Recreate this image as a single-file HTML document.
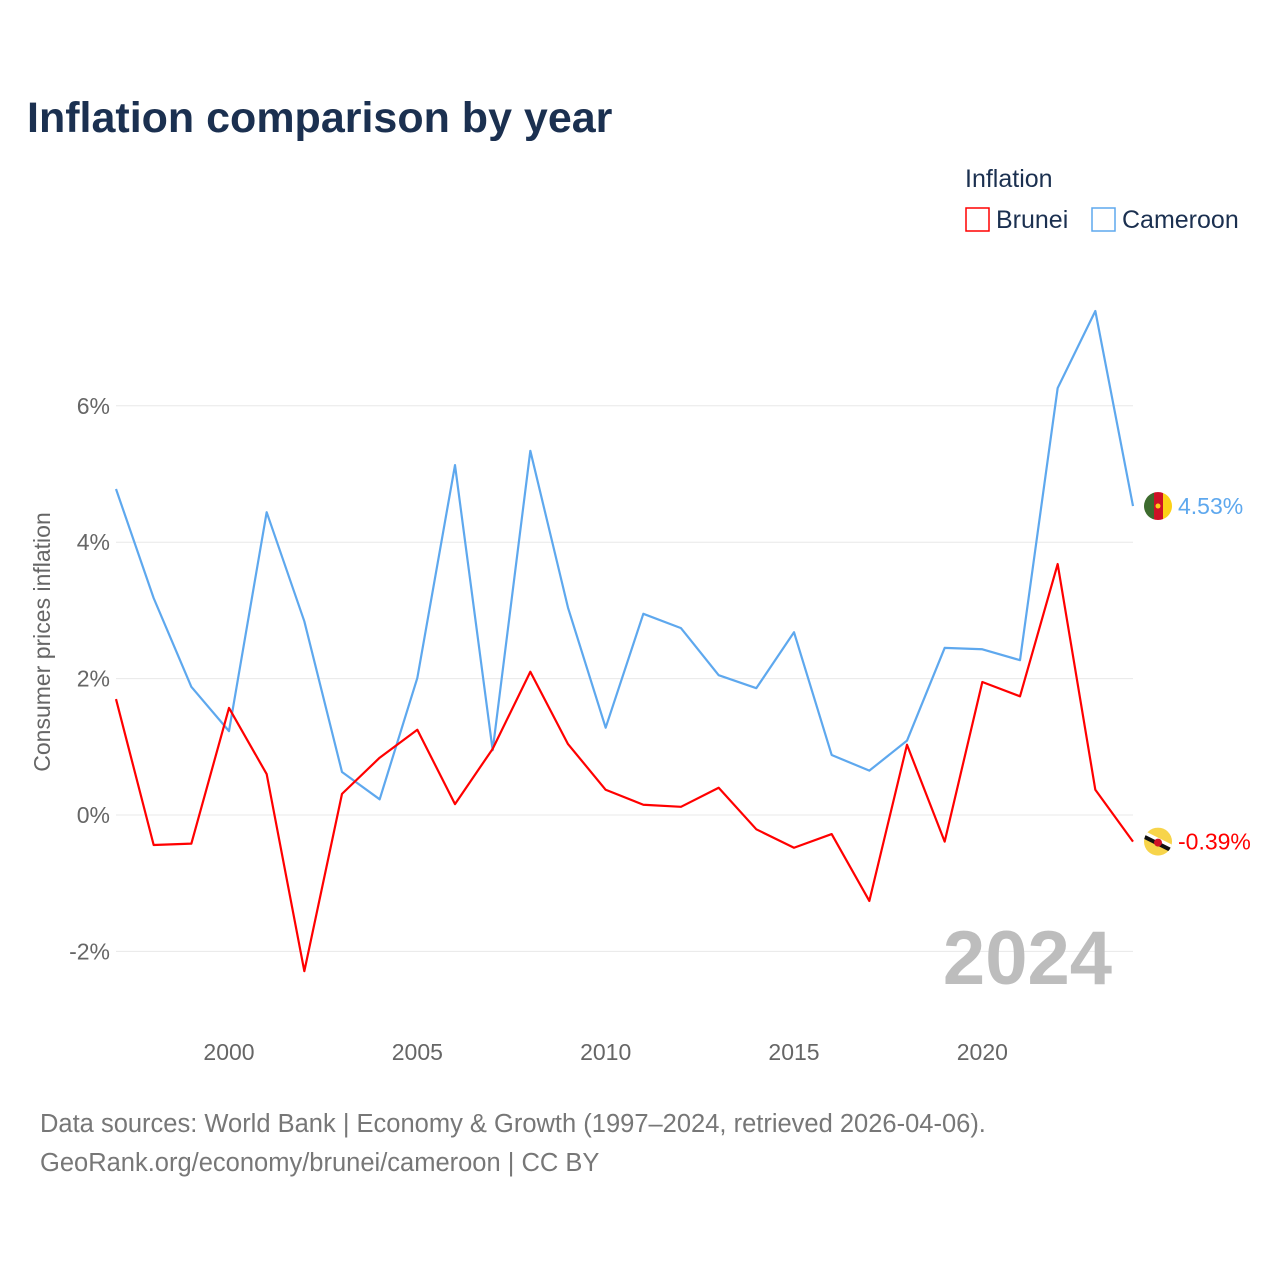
<!DOCTYPE html>
<html><head><meta charset="utf-8"><style>
body{margin:0;background:#fff;font-family:"Liberation Sans",sans-serif}
#wrap{position:relative;width:1280px;height:1280px}
</style></head><body>
<div id="wrap">
<svg id="chart" width="1280" height="1280" style="font-family:'Liberation Sans',sans-serif">
<defs>
<clipPath id="cc"><circle cx="0" cy="0" r="14"/></clipPath>
</defs>
<text x="27" y="132" font-size="43" font-weight="bold" fill="#1b3050">Inflation comparison by year</text>
<text x="965" y="187" font-size="25" fill="#1b3050">Inflation</text>
<g><rect x="966" y="208" width="23" height="23" fill="none" stroke="#ff0000" stroke-width="1.5"/><text x="996" y="228" font-size="25" fill="#1b3050">Brunei</text></g>
<g><rect x="1092" y="208" width="23" height="23" fill="none" stroke="#5ea8ee" stroke-width="1.5"/><text x="1122" y="228" font-size="25" fill="#1b3050">Cameroon</text></g>
<g id="grid"></g><g id="xt"></g>
<text transform="translate(50,642) rotate(-90)" text-anchor="middle" font-size="23" fill="#666">Consumer prices inflation</text>
<text x="1112" y="984" text-anchor="end" font-size="76" font-weight="bold" fill="#bdbdbd">2024</text>
<g id="series"></g>
<text x="40" y="1132" font-size="25.5" fill="#777">Data sources: World Bank | Economy &amp; Growth (1997–2024, retrieved 2026-04-06).</text>
<text x="40" y="1171" font-size="25.5" fill="#777">GeoRank.org/economy/brunei/cameroon | CC BY</text>
</svg></div>
<script>
const years=[1997,1998,1999,2000,2001,2002,2003,2004,2005,2006,2007,2008,2009,2010,2011,2012,2013,2014,2015,2016,2017,2018,2019,2020,2021,2022,2023,2024];
const cameroon=[4.78,3.18,1.88,1.23,4.44,2.84,0.63,0.23,2.01,5.13,0.95,5.34,3.04,1.28,2.95,2.74,2.05,1.86,2.68,0.88,0.65,1.09,2.45,2.43,2.27,6.26,7.39,4.53];
const brunei=[1.70,-0.44,-0.42,1.57,0.60,-2.29,0.31,0.84,1.25,0.16,0.97,2.10,1.04,0.37,0.15,0.12,0.40,-0.21,-0.48,-0.28,-1.26,1.03,-0.39,1.95,1.74,3.68,0.37,-0.39];
const yTicks=[-2,0,2,4,6];
const xTicks=[2000,2005,2010,2015,2020];
const NS="http://www.w3.org/2000/svg";
const X=v=>116+(v-1997)*(1133-116)/27;
const Y=v=>815-v*68.2;
function mk(t,a,p){const e=document.createElementNS(NS,t);for(const k in a)e.setAttribute(k,a[k]);p.appendChild(e);return e;}
const g=document.getElementById('grid');
yTicks.forEach(v=>{
 const l=mk('line',{x1:116,x2:1133,y1:Y(v),y2:Y(v),stroke:'#e8e8e8','stroke-width':1},g);
 
 
 const t=mk('text',{x:110,y:Y(v)+8,'text-anchor':'end','font-size':23,fill:'#666'},g);
 t.textContent=v+'%';
 
 
});
const xt=document.getElementById('xt');
xTicks.forEach(v=>{
 const t=mk('text',{x:X(v),y:1060,'text-anchor':'middle','font-size':23,fill:'#666'},xt);
 t.textContent=v;
 
 
});
const s=document.getElementById('series');
function flag(name,cy){
 const f=mk('g',{transform:'translate(1158,'+cy+')','clip-path':'url(#cc)'},s);
 
 
 if(name==='cameroon'){
  mk('rect',{x:-14,y:-14,width:10,height:28,fill:'#3d6b2e'},f);
  mk('rect',{x:-4,y:-14,width:9,height:28,fill:'#ce1126'},f);
  mk('rect',{x:5,y:-14,width:10,height:28,fill:'#fcd116'},f);
  mk('circle',{cx:0,cy:0,r:2.5,fill:'#fcd116'},f);
 } else {
  mk('rect',{x:-14,y:-14,width:28,height:28,fill:'#f7d44a'},f);
  mk('line',{x1:-16,y1:-8,x2:16,y2:8,stroke:'#fff','stroke-width':7},f);
  mk('line',{x1:-16,y1:-6,x2:16,y2:10,stroke:'#111','stroke-width':4},f);
  mk('circle',{cx:0,cy:1,r:4,fill:'#cf1126'},f);
 }
}
function line(data,color,name,label){
 const p=mk('polyline',{points:data.map((v,i)=>X(years[i])+','+Y(v)).join(' '),fill:'none',stroke:color,'stroke-width':2.2,'stroke-linejoin':'round'},s);
 
 
 const last=data[data.length-1];
 flag(name,Y(last));
 const t=mk('text',{x:1178,y:Y(last)+8,'font-size':23,fill:color},s);
 t.textContent=label;
 
 
}
line(cameroon,'#5ea8ee','cameroon',cameroon[cameroon.length-1].toFixed(2)+'%');
line(brunei,'#ff0000','brunei',brunei[brunei.length-1].toFixed(2)+'%');
</script>
</body></html>
